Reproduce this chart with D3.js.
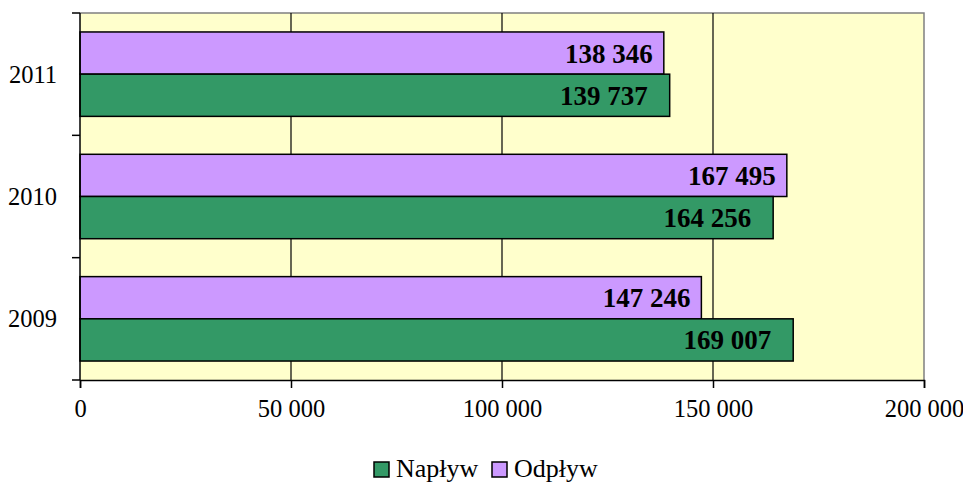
<!DOCTYPE html>
<html>
<head>
<meta charset="utf-8">
<script src="https://cdn.jsdelivr.net/npm/d3@7"></script>
<style>
  body { margin: 0; background: #fff; }
  text { font-family: "Liberation Serif", "Times New Roman", serif; }
</style>
</head>
<body>
<div id="chart"></div>
<script>
// years, top to bottom as drawn
var years = ["2011", "2010", "2009"];
var naplyw = [139737, 164256, 169007];
var odplyw = [138346, 167495, 147246];
var series_names = ["Napływ", "Odpływ"];
var x_ticks = [0, 50000, 100000, 150000, 200000];

var width = 963, height = 483;
var margin = {top: 13, right: 39, bottom: 103, left: 80};
var inner_w = width - margin.left - margin.right;
var inner_h = height - margin.top - margin.bottom;

var svg = d3.select("#chart").append("svg")
    .attr("width", width)
    .attr("height", height);

var g = svg.append("g")
    .attr("transform", "translate(" + margin.left + "," + margin.top + ")");

var x = d3.scaleLinear().domain([0, 200000]).range([0, inner_w]);
var y = d3.scaleBand().domain(years).range([0, inner_h]).paddingInner(0.31).paddingOuter(0.155);
var y_edge = d3.scaleLinear().domain([0, years.length]).range([0, inner_h]);

// format 169007 -> "169 007"
function fmt(v) {
    return d3.format(",")(v).replace(/,/g, " ");
}

// plot background
g.append("rect")
    .attr("width", inner_w).attr("height", inner_h)
    .attr("fill", "#FFFFCC");

// gray frame top + right
g.append("path")
    .attr("d", "M0,0H" + inner_w + "V" + inner_h)
    .attr("fill", "none").attr("stroke", "#808080").attr("stroke-width", 1.5);

// vertical gridlines
g.selectAll(".grid").data(x_ticks.slice(1, -1)).enter().append("line")
    .attr("x1", function(d) { return x(d); }).attr("x2", function(d) { return x(d); })
    .attr("y1", 0).attr("y2", inner_h)
    .attr("stroke", "#000").attr("stroke-width", 1.2);

var bar_h = y.bandwidth() / 2;

var rows = years.map(function(yr, i) {
    return [
        {year: yr, value: odplyw[i], color: "#CC99FF", pos: 0, pad: 11},
        {year: yr, value: naplyw[i], color: "#339966", pos: 1, pad: 22}
    ];
}).flat();

g.selectAll(".bar").data(rows).enter().append("rect")
    .attr("x", 0)
    .attr("y", function(d) { return y(d.year) + d.pos * bar_h; })
    .attr("width", function(d) { return x(d.value); })
    .attr("height", bar_h)
    .attr("fill", function(d) { return d.color; })
    .attr("stroke", "#000").attr("stroke-width", 1.5);

g.selectAll(".lbl").data(rows).enter().append("text")
    .attr("x", function(d) { return x(d.value) - d.pad; })
    .attr("y", function(d) { return y(d.year) + d.pos * bar_h + bar_h / 2; })
    .attr("dy", "0.35em")
    .attr("text-anchor", "end")
    .attr("font-weight", "bold")
    .attr("font-size", 27)
    .text(function(d) { return fmt(d.value); });

// x axis
var xAxis = g.append("g")
    .attr("transform", "translate(0," + inner_h + ")")
    .call(d3.axisBottom(x).tickValues(x_ticks).tickSize(8).tickPadding(12).tickFormat(fmt));
xAxis.select(".domain").attr("stroke", "#000").attr("stroke-width", 1.5);
xAxis.selectAll("line").attr("stroke-width", 1.5);
xAxis.selectAll("text").attr("font-size", 24.5).attr("font-family", "Liberation Serif").attr("fill", "#000");

// y axis: ticks at band edges
var yAxis = g.append("g");
yAxis.append("line")
    .attr("x1", 0).attr("x2", 0).attr("y1", 0).attr("y2", inner_h)
    .attr("stroke", "#000").attr("stroke-width", 1.5);
yAxis.selectAll(".ytick").data(d3.range(years.length + 1)).enter().append("line")
    .attr("x1", -8).attr("x2", 0)
    .attr("y1", function(d) { return y_edge(d); }).attr("y2", function(d) { return y_edge(d); })
    .attr("stroke", "#000").attr("stroke-width", 1.5);
yAxis.selectAll(".ylbl").data(years).enter().append("text")
    .attr("x", -23)
    .attr("y", function(d) { return y(d) + y.bandwidth() / 2; })
    .attr("dy", "0.35em")
    .attr("text-anchor", "end")
    .attr("font-size", 24.5)
    .text(function(d) { return d; });

// legend
var legend_colors = ["#339966", "#CC99FF"];
var legend = svg.append("g").attr("transform", "translate(374,462)");
var item_x = [0, 118];
var items = legend.selectAll(".leg").data(series_names).enter().append("g")
    .attr("transform", function(d, i) { return "translate(" + item_x[i] + ",0)"; });
items.append("rect")
    .attr("width", 15).attr("height", 15)
    .attr("fill", function(d, i) { return legend_colors[i]; })
    .attr("stroke", "#000").attr("stroke-width", 1.5);
items.append("text")
    .attr("x", 22).attr("y", 15)
    .attr("font-size", 26)
    .text(function(d) { return d; });
</script>
</body>
</html>
